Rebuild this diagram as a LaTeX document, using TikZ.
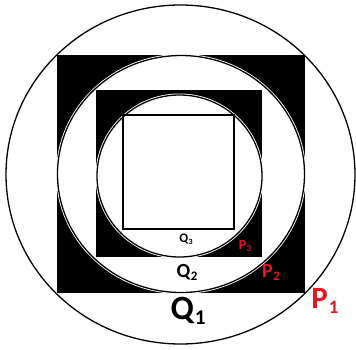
\documentclass[tikz,border=0pt]{standalone}
\usepackage{fontspec}
\setmainfont{Carlito}
\definecolor{pred}{RGB}{228,24,36}
\tikzset{
  ring/.style={fill=white,draw=black,line width=1.3pt},
  halo/.style={draw=white,line width=3pt},
  qlab/.style={inner sep=0pt,text=black,font=\bfseries},
  plab/.style={inner sep=0pt,text=pred,font=\bfseries},
}
\newcommand{\lab}[4]{{\fontsize{#1}{#1}\selectfont #2\kern0.03em\raisebox{-0.15em}{\fontsize{#3}{#3}\selectfont #4}}}
\begin{document}
\begin{tikzpicture}[x=1pt,y=-1pt]
\useasboundingbox (0,0) rectangle (356,349);
% outer circle
\draw[line width=1.3pt] (180.5,174.5) ellipse [x radius=174.5, y radius=169.5];
% Q1 square
\fill[black] (57,55) rectangle (305,293);
% middle circle
\draw[halo] (181,174) ellipse [x radius=123.5, y radius=118.5];
\draw[ring] (181,174) ellipse [x radius=123.5, y radius=118.5];
% Q2 square
\fill[black] (96,90) rectangle (262,257);
% inner circle
\draw[halo] (179.5,176) ellipse [x radius=82.5, y radius=81];
\draw[ring] (179.5,176) ellipse [x radius=82.5, y radius=81];
% Q3 square
\draw[line width=1.3pt] (123,115) rectangle (234,229);
% labels
\node[qlab] (q3) at (186,239) {\lab{13}{Q}{8}{3}};
\node[qlab] (q2) at (187,272) {\lab{20}{Q}{13}{2}};
\node[qlab] (q1) at (188,311) {\lab{34}{Q}{21}{1}};
\node[plab] (p1) at (325,301) {\lab{31}{P}{19}{1}};
\node[plab] (p2) at (271,273) {\lab{20}{P}{13}{2}};
\node[plab] (p3) at (245,246) {\lab{14}{P}{9}{3}};
\end{tikzpicture}
\end{document}
